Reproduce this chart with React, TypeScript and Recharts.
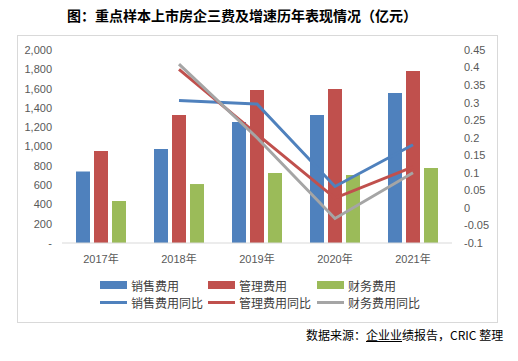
import React from "react";
import { ComposedChart, Bar, Line, XAxis, YAxis } from "recharts";

const years = ["2017年", "2018年", "2019年", "2020年", "2021年"];
const salesExp = [742, 975, 1255, 1326, 1554];
const adminExp = [953, 1326, 1585, 1596, 1782];
const finExp = [435, 611, 725, 705, 777];
const salesYoY = [null, 0.306, 0.296, 0.061, 0.18];
const adminYoY = [null, 0.395, 0.21, 0.028, 0.117];
const finYoY = [null, 0.41, 0.2, -0.03, 0.1];
const leftTicks = [0, 200, 400, 600, 800, 1000, 1200, 1400, 1600, 1800, 2000];
const rightTicks = [-0.1, -0.05, 0, 0.05, 0.1, 0.15, 0.2, 0.25, 0.3, 0.35, 0.4, 0.45];

const BLUE = "#4F81BD";
const RED = "#C0504D";
const GREEN = "#9BBB59";
const GRAY = "#A5A5A5";

const data = years.map((y, i) => ({
  year: y,
  sales: salesExp[i],
  admin: adminExp[i],
  fin: finExp[i],
  salesYoY: salesYoY[i],
  adminYoY: adminYoY[i],
  finYoY: finYoY[i],
}));

const font = "'Liberation Sans', 'Noto Sans CJK SC', sans-serif";
const tickStyle = { fill: "#595959", fontSize: 11, fontFamily: font };

const legendRows = [
  [
    { label: "销售费用", color: BLUE, type: "bar" },
    { label: "管理费用", color: RED, type: "bar" },
    { label: "财务费用", color: GREEN, type: "bar" },
  ],
  [
    { label: "销售费用同比", color: BLUE, type: "line" },
    { label: "管理费用同比", color: RED, type: "line" },
    { label: "财务费用同比", color: GRAY, type: "line" },
  ],
];
const legendX = [100, 208, 317];

export default function App() {
  return (
    <div style={{ position: "absolute", left: 0, top: 0, width: 518, height: 361, background: "#fff", fontFamily: font }}>
      <div
        style={{
          position: "absolute",
          left: 0,
          width: 484,
          top: 5,
          textAlign: "center",
          fontSize: 14,
          fontWeight: "bold",
          color: "#000",
          fontFamily: "'Noto Sans CJK SC', sans-serif",
          lineHeight: "20px",
        }}
      >
        图：重点样本上市房企三费及增速历年表现情况（亿元）
      </div>
      <div
        style={{
          position: "absolute",
          left: 17,
          top: 35,
          width: 479,
          height: 286,
          border: "1px solid #d9d9d9",
        }}
      />
      <div style={{ position: "absolute", left: 0, top: 0 }}>
        <ComposedChart
          width={518}
          height={361}
          data={data}
          margin={{ top: 50, right: 16, left: 0, bottom: 88 }}
          barSize={14}
          barGap={4}
        >
          <XAxis
            dataKey="year"
            axisLine={{ stroke: "#d9d9d9" }}
            tickLine={false}
            tick={tickStyle}
            height={30}
            tickMargin={6}
          />
          <YAxis
            yAxisId="left"
            width={62}
            domain={[0, 2000]}
            ticks={leftTicks}
            interval={0}
            axisLine={false}
            tickLine={false}
            tick={tickStyle}
            tickMargin={4}
            tickFormatter={(v: number) => (v === 0 ? "-" : v.toLocaleString("en-US"))}
          />
          <YAxis
            yAxisId="right"
            orientation="right"
            width={50}
            domain={[-0.1, 0.45]}
            ticks={rightTicks}
            interval={0}
            axisLine={false}
            tickLine={false}
            tick={tickStyle}
            tickMargin={6}
            tickFormatter={(v: number) => String(v)}
          />
          <Bar yAxisId="left" dataKey="sales" fill={BLUE} isAnimationActive={false} />
          <Bar yAxisId="left" dataKey="admin" fill={RED} isAnimationActive={false} />
          <Bar yAxisId="left" dataKey="fin" fill={GREEN} isAnimationActive={false} />
          <Line yAxisId="right" dataKey="salesYoY" stroke={BLUE} strokeWidth={3} dot={false} isAnimationActive={false} />
          <Line yAxisId="right" dataKey="adminYoY" stroke={RED} strokeWidth={3} dot={false} isAnimationActive={false} />
          <Line yAxisId="right" dataKey="finYoY" stroke={GRAY} strokeWidth={3} dot={false} isAnimationActive={false} />
        </ComposedChart>
      </div>
      {legendRows.map((row, r) =>
        row.map((item, c) => (
          <div
            key={`${r}-${c}`}
            style={{
              position: "absolute",
              left: legendX[c],
              top: 277 + r * 17,
              height: 16,
              display: "flex",
              alignItems: "center",
              fontSize: 12,
              color: "#404040",
              fontFamily: "'Noto Sans CJK SC', sans-serif",
              whiteSpace: "nowrap",
            }}
          >
            <span
              style={{
                display: "inline-block",
                width: 27,
                height: item.type === "bar" ? 8 : 3,
                background: item.color,
                marginRight: 4,
              }}
            />
            {item.label}
          </div>
        ))
      )}
      <div
        style={{
          position: "absolute",
          left: 306,
          top: 326,
          fontSize: 12,
          color: "#000",
          fontFamily: "'Noto Sans CJK SC', sans-serif",
          whiteSpace: "nowrap",
          lineHeight: "18px",
        }}
      >
        数据来源：<span style={{ textDecoration: "underline" }}>企业业</span>绩报告，CRIC 整理
      </div>
    </div>
  );
}
